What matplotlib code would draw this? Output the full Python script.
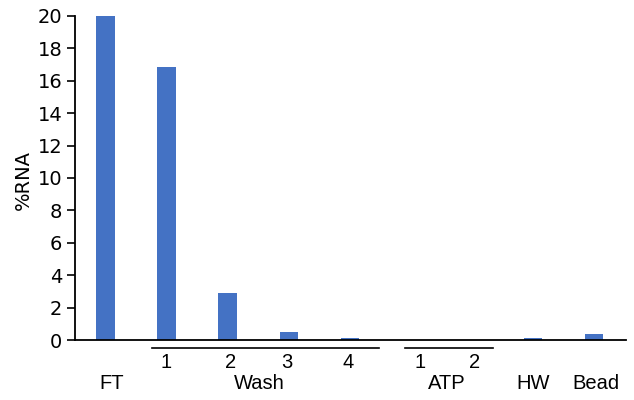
import matplotlib
matplotlib.use("Agg")
import matplotlib.pyplot as plt
from matplotlib.transforms import blended_transform_factory

# Fraction of RNA recovered in each step
steps = ["FT", "Wash 1", "Wash 2", "Wash 3", "Wash 4", "ATP 1", "ATP 2", "HW", "Bead"]
pct_rna = [20.0, 16.85, 2.92, 0.51, 0.14, 0.0, 0.0, 0.10, 0.37]

sub_labels = ["", "1", "2", "3", "4", "1", "2", "", ""]
group_names = ["FT", "Wash", "ATP", "HW", "Bead"]

bar_color = "#4472C4"
tick_font = "DejaVu Sans"
label_font = "Liberation Sans"

fig = plt.figure(figsize=(6.34, 4.0), dpi=100)
ax = fig.add_axes([0.118, 0.15, 0.869, 0.81])

x = list(range(len(steps)))
ax.bar(x, pct_rna, width=0.31, color=bar_color, zorder=2)

ax.set_xlim(-0.51, 8.52)
ax.set_ylim(0, 20)
ax.set_yticks(range(0, 21, 2))
ax.set_xticks([])
for lbl in ax.get_yticklabels():
    lbl.set_fontfamily(tick_font)
    lbl.set_fontsize(14)
ax.tick_params(axis="y", direction="out", length=6, width=1.2, pad=3)

for side in ("top", "right"):
    ax.spines[side].set_visible(False)
for side in ("left", "bottom"):
    ax.spines[side].set_linewidth(1.3)
    ax.spines[side].set_color("black")

ax.set_ylabel("%RNA", fontfamily=tick_font, fontsize=14)
ax.yaxis.set_label_coords(-0.077, 0.494)

trans = blended_transform_factory(ax.transData, ax.transAxes)

# Numbered sub-steps under each bar
sub_x = [0, 0.98, 2.05, 2.97, 3.97, 5.15, 6.05, 7, 8]
for xi, s in zip(sub_x, sub_labels):
    if s:
        ax.text(xi, -0.068, s, transform=trans, ha="center", va="center",
                fontfamily=label_font, fontsize=14.5, clip_on=False)

# Group brackets
brackets = [(0.75, 4.48), (4.90, 6.34)]
for x0, x1 in brackets:
    ax.plot([x0, x1], [-0.025, -0.025], transform=trans, color="black",
            lw=1.2, clip_on=False)

# Group names
group_x = [0.10, 2.52, 5.59, 7.0, 8.03]
for gx, name in zip(group_x, group_names):
    ax.text(gx, -0.135, name, transform=trans, ha="center", va="center",
            fontfamily=label_font, fontsize=14.5, clip_on=False)

fig.savefig("out.png", dpi=100)
